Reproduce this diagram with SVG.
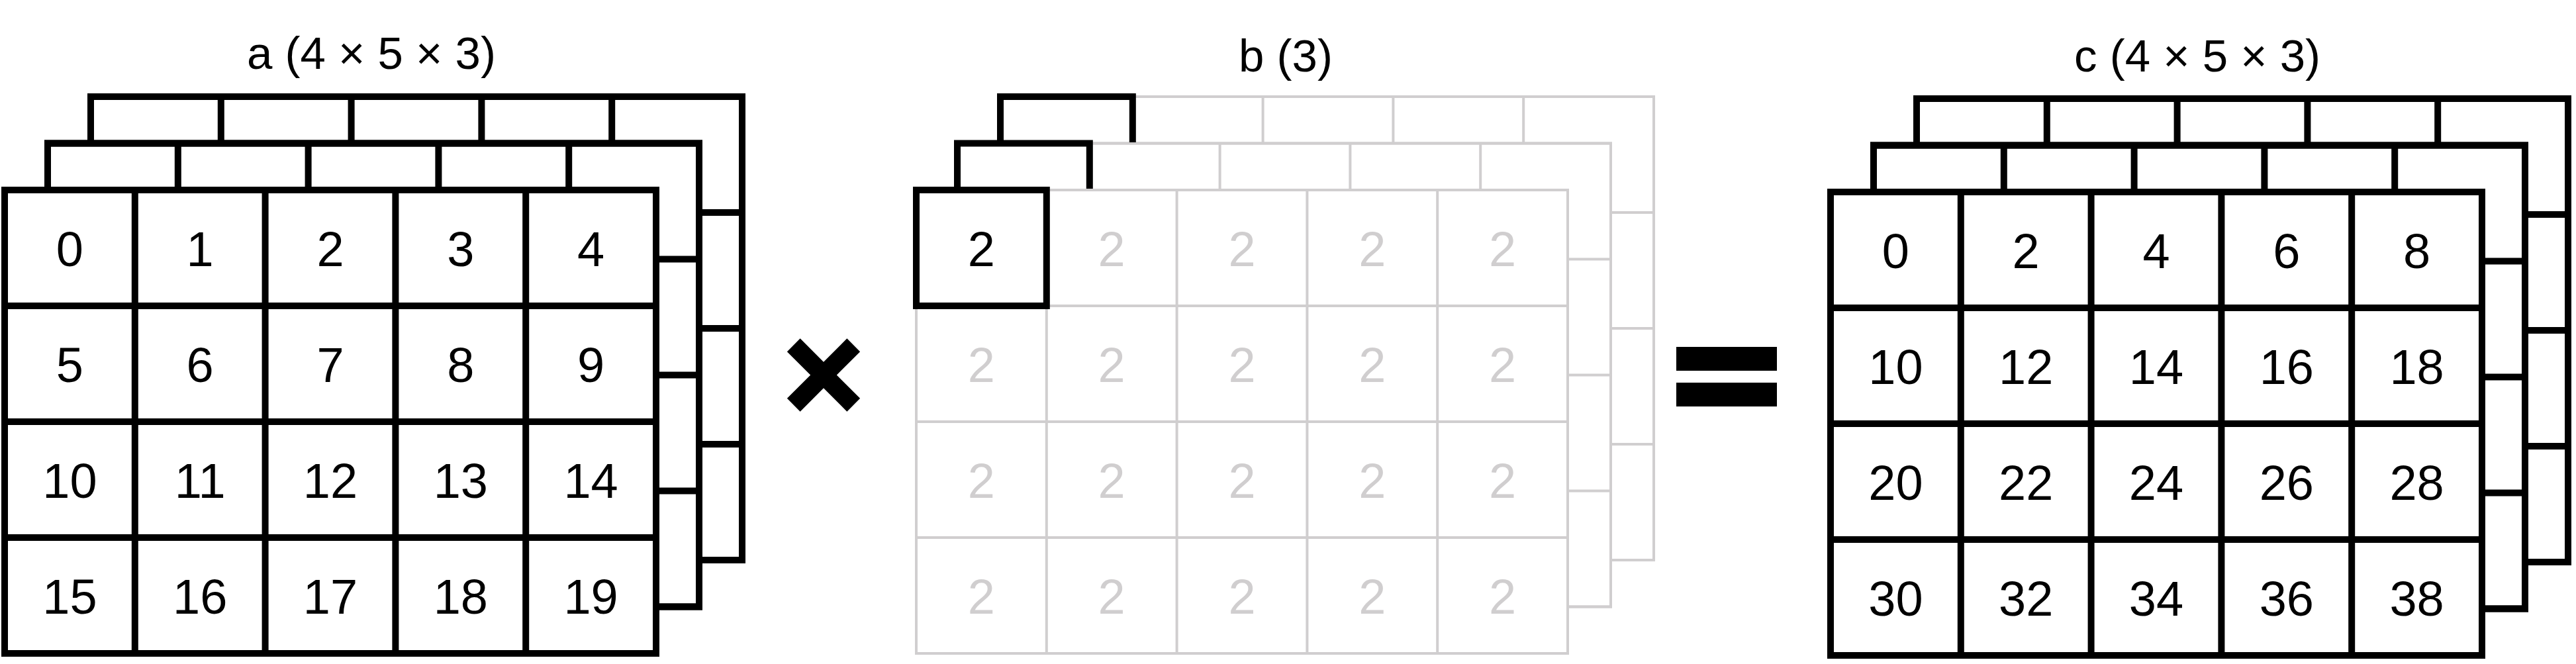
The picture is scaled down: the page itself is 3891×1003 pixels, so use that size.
<svg xmlns="http://www.w3.org/2000/svg" xmlns:xlink="http://www.w3.org/1999/xlink" width="3891" height="1003" viewBox="0 0 3891 1003">
<style>
.t{font-family:"Liberation Sans",Arial,sans-serif;font-size:74px;text-anchor:middle;fill:#000}
.title{font-family:"Liberation Sans",Arial,sans-serif;font-size:69px;text-anchor:middle;fill:#000}
.g{fill:#d0cecf}
.blk{stroke:#000;stroke-width:10}
.gry{stroke:#d0cecf;stroke-width:4}
.hl{fill:none;stroke:#000;stroke-width:10;stroke-linejoin:miter}
</style>
<defs>
<g id="grid">
<rect x="0" y="0" width="984" height="700" fill="#fff"/>
<path d="M196.8,0V700M393.6,0V700M590.4,0V700M787.2,0V700M0,175H984M0,350H984M0,525H984" fill="none"/>
<rect x="0" y="0" width="984" height="700" fill="none"/>
</g>
</defs>
<rect width="3891" height="1003" fill="#fff"/>

<g id="tensor-a">
<text class="title" x="561" y="104">a (4 × 5 × 3)</text>
<g transform="translate(7,287)">
<use xlink:href="#grid" class="blk" transform="translate(130,-141)"/>
<use xlink:href="#grid" class="blk" transform="translate(65,-70.5)"/>
<use xlink:href="#grid" class="blk"/>
<text class="t" x="98.4" y="115">0</text><text class="t" x="295.2" y="115">1</text><text class="t" x="492" y="115">2</text><text class="t" x="688.8" y="115">3</text><text class="t" x="885.6" y="115">4</text>
<text class="t" x="98.4" y="290">5</text><text class="t" x="295.2" y="290">6</text><text class="t" x="492" y="290">7</text><text class="t" x="688.8" y="290">8</text><text class="t" x="885.6" y="290">9</text>
<text class="t" x="98.4" y="465">10</text><text class="t" x="295.2" y="465">11</text><text class="t" x="492" y="465">12</text><text class="t" x="688.8" y="465">13</text><text class="t" x="885.6" y="465">14</text>
<text class="t" x="98.4" y="640">15</text><text class="t" x="295.2" y="640">16</text><text class="t" x="492" y="640">17</text><text class="t" x="688.8" y="640">18</text><text class="t" x="885.6" y="640">19</text>
</g>
</g>

<g id="op-multiply">
<polygon fill="#000" transform="translate(1244,566.5)" points="0,-19.8 35.35,-55.15 55.15,-35.35 19.8,0 55.15,35.35 35.35,55.15 0,19.8 -35.35,55.15 -55.15,35.35 -19.8,0 -55.15,-35.35 -35.35,-55.15"/>
</g>

<g id="tensor-b">
<text class="title" x="1942" y="108">b (3)</text>
<g transform="translate(1384,287)">
<use xlink:href="#grid" class="gry" transform="translate(130,-141)"/>
<use xlink:href="#grid" class="gry" transform="translate(65,-70.5)"/>
<use xlink:href="#grid" class="gry"/>
<g class="g">
<text class="t g" x="295.2" y="115">2</text><text class="t g" x="492" y="115">2</text><text class="t g" x="688.8" y="115">2</text><text class="t g" x="885.6" y="115">2</text>
<text class="t g" x="98.4" y="290">2</text><text class="t g" x="295.2" y="290">2</text><text class="t g" x="492" y="290">2</text><text class="t g" x="688.8" y="290">2</text><text class="t g" x="885.6" y="290">2</text>
<text class="t g" x="98.4" y="465">2</text><text class="t g" x="295.2" y="465">2</text><text class="t g" x="492" y="465">2</text><text class="t g" x="688.8" y="465">2</text><text class="t g" x="885.6" y="465">2</text>
<text class="t g" x="98.4" y="640">2</text><text class="t g" x="295.2" y="640">2</text><text class="t g" x="492" y="640">2</text><text class="t g" x="688.8" y="640">2</text><text class="t g" x="885.6" y="640">2</text>
</g>
<path class="hl" d="M127,-72 V-141 H326.8 V-72"/>
<path class="hl" d="M62,-2 V-70.5 H261.8 V-2"/>
<rect class="hl" x="0" y="0" width="196.8" height="175"/>
<text class="t" x="98.4" y="115">2</text>
</g>
</g>

<g id="op-equals">
<rect x="2532" y="524" width="152" height="36" fill="#000"/>
<rect x="2532" y="578" width="152" height="36" fill="#000"/>
</g>

<g id="tensor-c">
<text class="title" x="3319" y="108">c (4 × 5 × 3)</text>
<g transform="translate(2765,290)">
<use xlink:href="#grid" class="blk" transform="translate(130,-141)"/>
<use xlink:href="#grid" class="blk" transform="translate(65,-70.5)"/>
<use xlink:href="#grid" class="blk"/>
<text class="t" x="98.4" y="115">0</text><text class="t" x="295.2" y="115">2</text><text class="t" x="492" y="115">4</text><text class="t" x="688.8" y="115">6</text><text class="t" x="885.6" y="115">8</text>
<text class="t" x="98.4" y="290">10</text><text class="t" x="295.2" y="290">12</text><text class="t" x="492" y="290">14</text><text class="t" x="688.8" y="290">16</text><text class="t" x="885.6" y="290">18</text>
<text class="t" x="98.4" y="465">20</text><text class="t" x="295.2" y="465">22</text><text class="t" x="492" y="465">24</text><text class="t" x="688.8" y="465">26</text><text class="t" x="885.6" y="465">28</text>
<text class="t" x="98.4" y="640">30</text><text class="t" x="295.2" y="640">32</text><text class="t" x="492" y="640">34</text><text class="t" x="688.8" y="640">36</text><text class="t" x="885.6" y="640">38</text>
</g>
</g>
</svg>
